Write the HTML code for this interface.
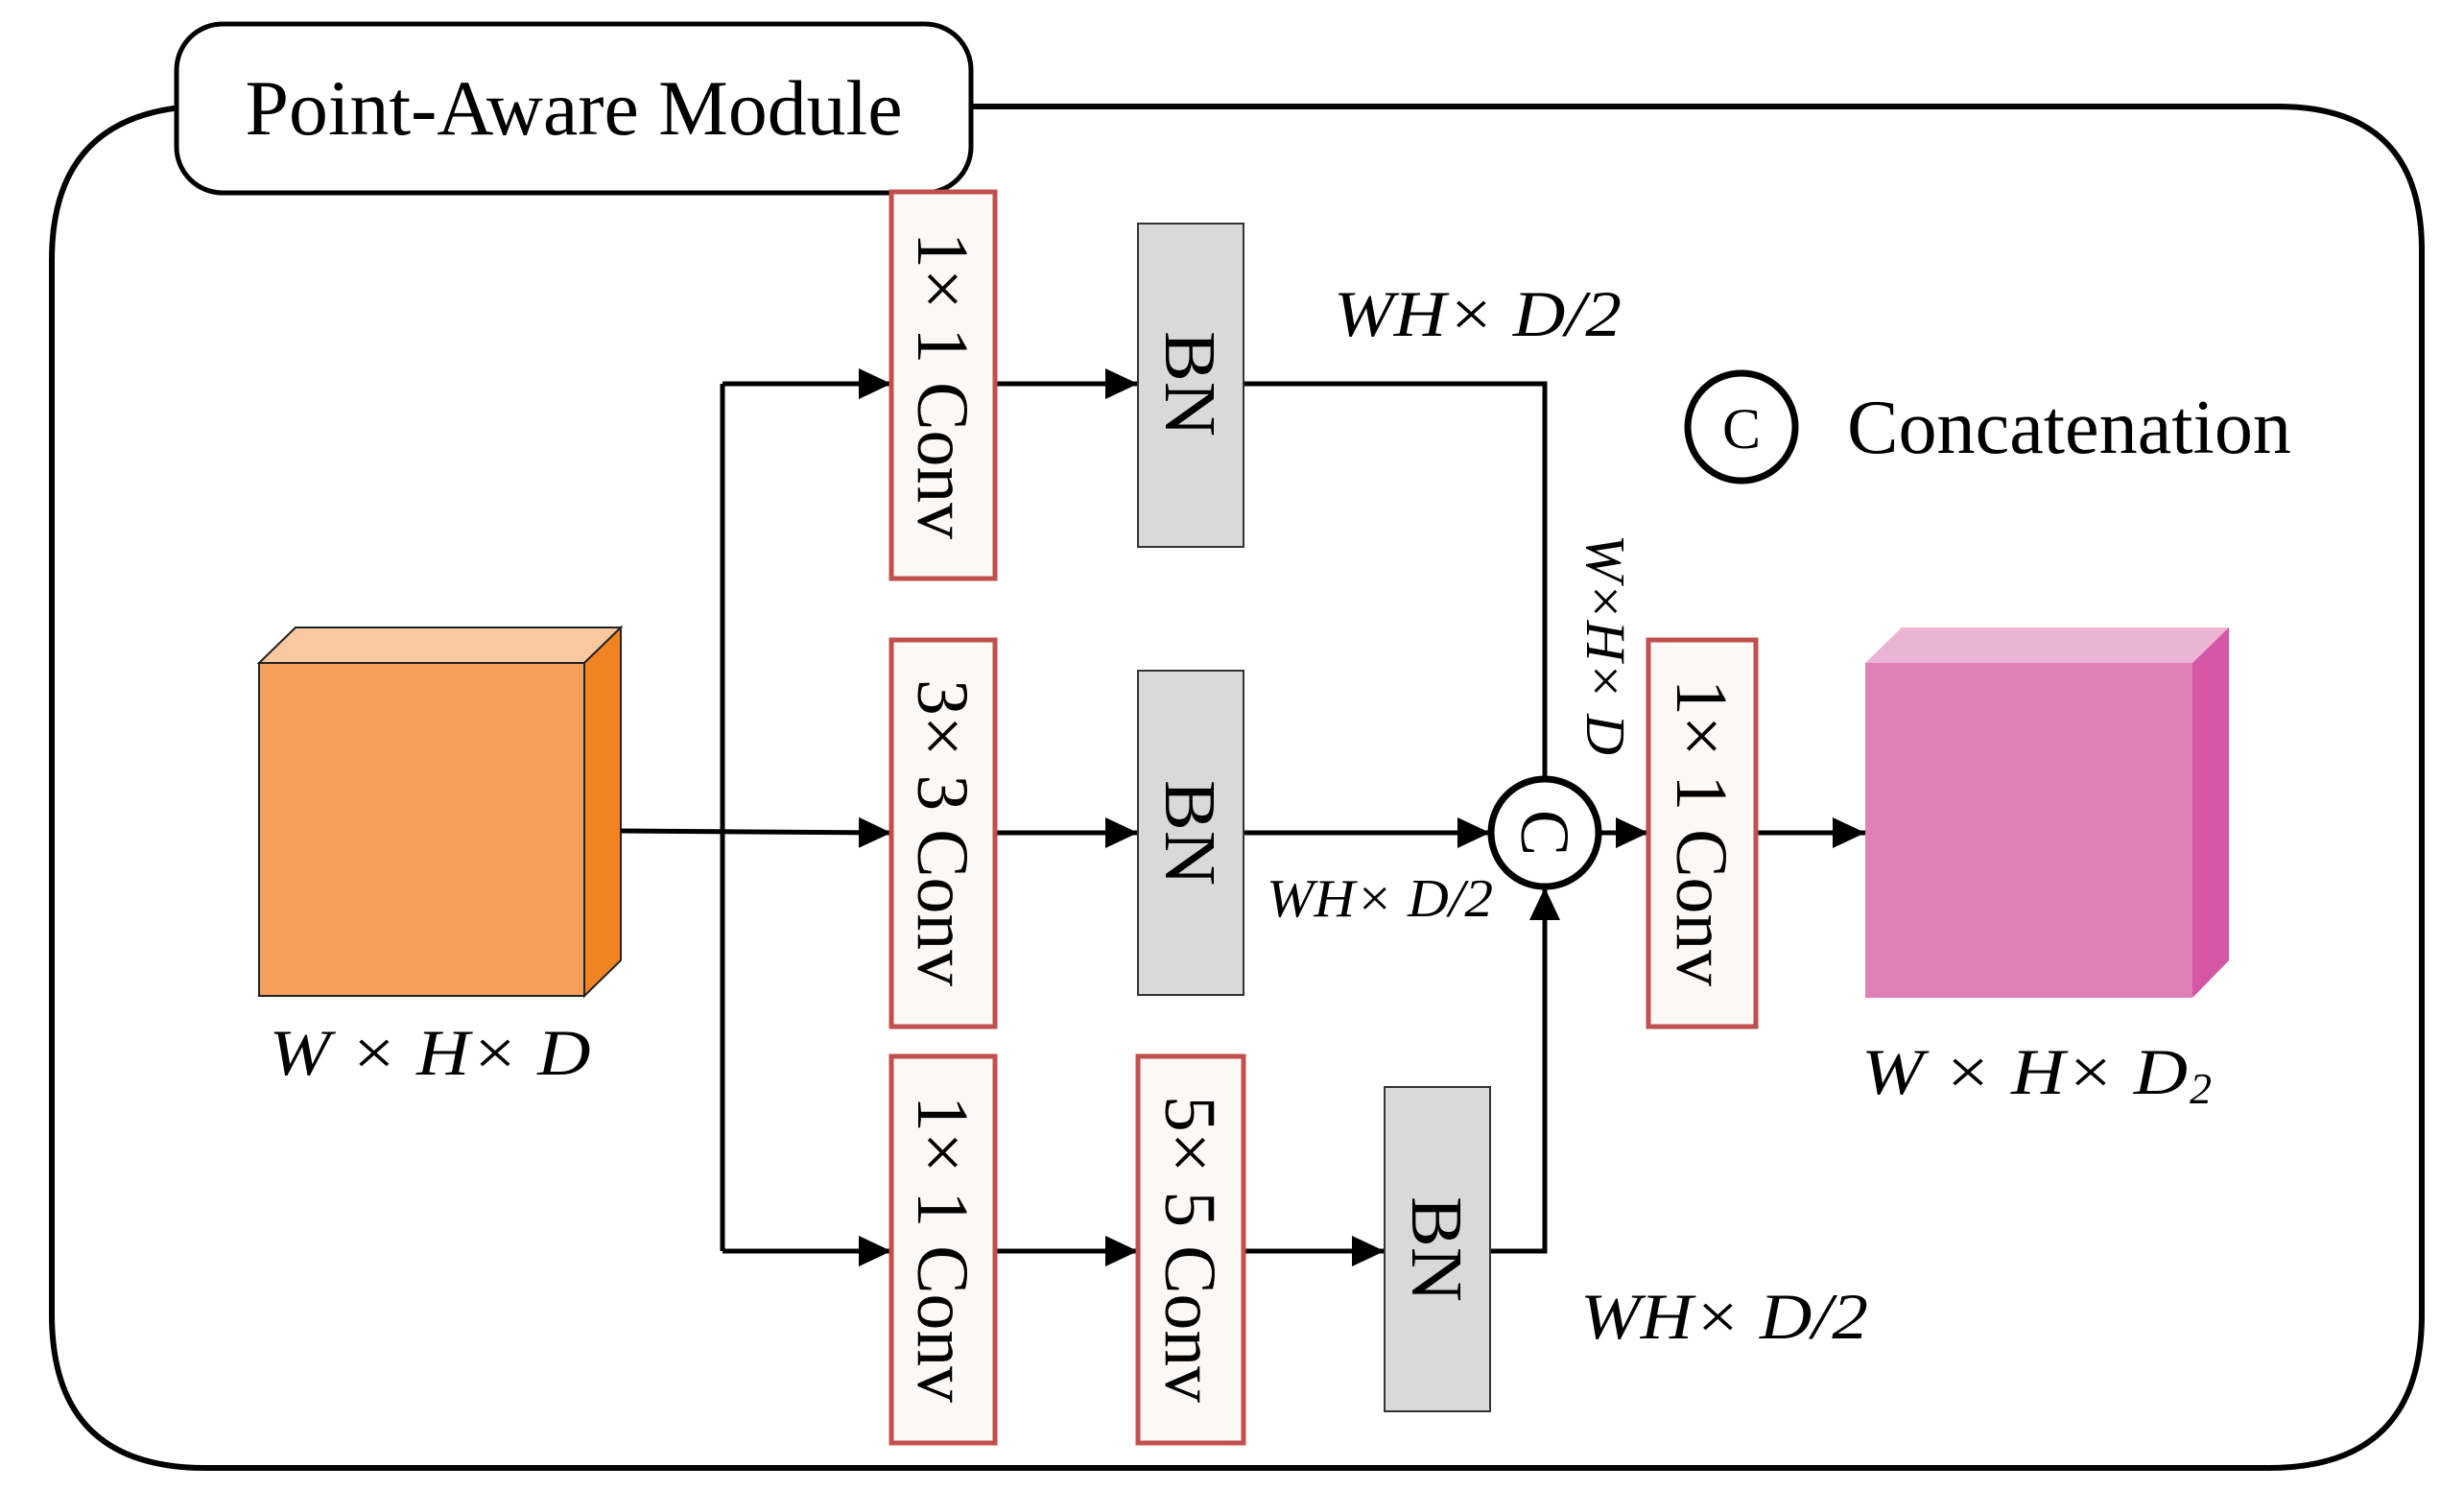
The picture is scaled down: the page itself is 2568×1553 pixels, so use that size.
<!DOCTYPE html>
<html><head><meta charset="utf-8"><style>html,body{margin:0;padding:0;background:#fff}svg{display:block}</style></head>
<body>
<svg width="2568" height="1553" viewBox="0 0 2568 1553" xmlns="http://www.w3.org/2000/svg" font-family="'Liberation Serif', serif">
<defs>
<marker id="ar" markerWidth="34" markerHeight="32" refX="10" refY="5" orient="auto" markerUnits="userSpaceOnUse" viewBox="0 0 10 10" preserveAspectRatio="none">
<path d="M0,0 L10,5 L0,10 z" fill="#000"/>
</marker>
</defs>
<!-- outer frame -->
<path d="M200,111 L2374,111 Q2524,111 2524,261 L2524,1370 Q2524,1530 2364,1530 L214,1530 Q54,1530 54,1370 L54,271 Q54,121 200,111" fill="none" stroke="#000" stroke-width="6"/>
<!-- header -->
<rect x="184" y="25" width="828" height="176" rx="48" fill="#fff" stroke="#000" stroke-width="5"/>
<text x="598" y="140" font-size="82" text-anchor="middle" textLength="685" lengthAdjust="spacingAndGlyphs">Point-Aware Module</text>

<!-- orange cube -->
<polygon points="270,691 308,654 647,654 609,691" fill="#F8C8A0" stroke="#222" stroke-width="2"/>
<polygon points="609,691 647,654 647,1001 609,1038" fill="#F08425" stroke="#222" stroke-width="2"/>
<rect x="270" y="691" width="339" height="347" fill="#F4A05C" stroke="#222" stroke-width="2"/>
<text x="448" y="1120" font-size="68" font-style="italic" text-anchor="middle" textLength="335" lengthAdjust="spacingAndGlyphs">W × H× D</text>

<!-- connectors -->
<g stroke="#000" stroke-width="5" fill="none">
<line x1="753" y1="400" x2="753" y2="1304"/>
<line x1="647" y1="866" x2="929" y2="868" marker-end="url(#ar)"/>
<line x1="753" y1="400" x2="929" y2="400" marker-end="url(#ar)"/>
<line x1="753" y1="1304" x2="929" y2="1304" marker-end="url(#ar)"/>
<line x1="1037" y1="400" x2="1186" y2="400" marker-end="url(#ar)"/>
<line x1="1037" y1="868" x2="1186" y2="868" marker-end="url(#ar)"/>
<line x1="1037" y1="1304" x2="1186" y2="1304" marker-end="url(#ar)"/>
<line x1="1296" y1="1304" x2="1443" y2="1304" marker-end="url(#ar)"/>
<polyline points="1296,400 1610,400 1610,811"/>
<line x1="1296" y1="868" x2="1553" y2="868" marker-end="url(#ar)"/>
<polyline points="1553,1304 1610,1304 1610,925" marker-end="url(#ar)"/>
<line x1="1667" y1="868" x2="1718" y2="868" marker-end="url(#ar)"/>
<line x1="1830" y1="868" x2="1944" y2="868" marker-end="url(#ar)"/>
</g>

<!-- conv boxes -->
<g fill="#FBF8F5" stroke="#C0504D" stroke-width="5">
<rect x="929" y="200" width="108" height="403"/>
<rect x="929" y="667" width="108" height="403"/>
<rect x="929" y="1101" width="108" height="403"/>
<rect x="1186" y="1101" width="110" height="403"/>
<rect x="1718" y="667" width="112" height="403"/>
</g>
<g fill="#D9D9D9" stroke="#333" stroke-width="2">
<rect x="1186" y="233" width="110" height="337"/>
<rect x="1186" y="699" width="110" height="338"/>
<rect x="1443" y="1133" width="110" height="338"/>
</g>
<g font-size="76" text-anchor="middle">
<text transform="translate(983,402) rotate(90)" dy="26" textLength="320" lengthAdjust="spacingAndGlyphs">1× 1 Conv</text>
<text transform="translate(983,868) rotate(90)" dy="26" textLength="320" lengthAdjust="spacingAndGlyphs">3× 3 Conv</text>
<text transform="translate(983,1302) rotate(90)" dy="26" textLength="320" lengthAdjust="spacingAndGlyphs">1× 1 Conv</text>
<text transform="translate(1241,1302) rotate(90)" dy="26" textLength="320" lengthAdjust="spacingAndGlyphs">5× 5 Conv</text>
<text transform="translate(1774,868) rotate(90)" dy="26" textLength="320" lengthAdjust="spacingAndGlyphs">1× 1 Conv</text>
<text transform="translate(1241,400) rotate(90)" dy="26" textLength="110" lengthAdjust="spacingAndGlyphs">BN</text>
<text transform="translate(1241,868) rotate(90)" dy="26" textLength="110" lengthAdjust="spacingAndGlyphs">BN</text>
<text transform="translate(1498,1302) rotate(90)" dy="26" textLength="110" lengthAdjust="spacingAndGlyphs">BN</text>
</g>

<!-- concat circle -->
<circle cx="1610" cy="868" r="56" fill="#fff" stroke="#000" stroke-width="7"/>
<text transform="translate(1610,868) rotate(90)" dy="24" font-size="72" text-anchor="middle">C</text>

<!-- pink cube -->
<polygon points="1944,691 1982,654 2323,654 2285,691" fill="#ECB4D4"/>
<polygon points="2285,691 2323,654 2323,1001 2285,1040" fill="#D456A4"/>
<rect x="1944" y="691" width="341" height="349" fill="#E080B8"/>
<text x="1940" y="1140" font-size="68" font-style="italic" textLength="340" lengthAdjust="spacingAndGlyphs">W × H× D</text>
<text x="2282" y="1150" font-size="46" font-style="italic">2</text>

<!-- labels -->
<text x="1540" y="350" font-size="68" font-style="italic" text-anchor="middle" textLength="300" lengthAdjust="spacingAndGlyphs">WH× D/2</text>
<text x="1438" y="955" font-size="56" font-style="italic" text-anchor="middle" textLength="236" lengthAdjust="spacingAndGlyphs">WH× D/2</text>
<text x="1797" y="1395" font-size="68" font-style="italic" text-anchor="middle" textLength="300" lengthAdjust="spacingAndGlyphs">WH× D/2</text>
<text transform="translate(1652,672) rotate(90)" dy="-2" font-size="58" font-style="italic" text-anchor="middle" textLength="230" lengthAdjust="spacingAndGlyphs">W×H× D</text>

<!-- legend -->
<circle cx="1815" cy="445" r="56" fill="#fff" stroke="#000" stroke-width="7"/>
<text x="1815" y="467" font-size="60" text-anchor="middle">C</text>
<text x="1925" y="472" font-size="80" textLength="463" lengthAdjust="spacingAndGlyphs">Concatenation</text>
</svg>
</body></html>
